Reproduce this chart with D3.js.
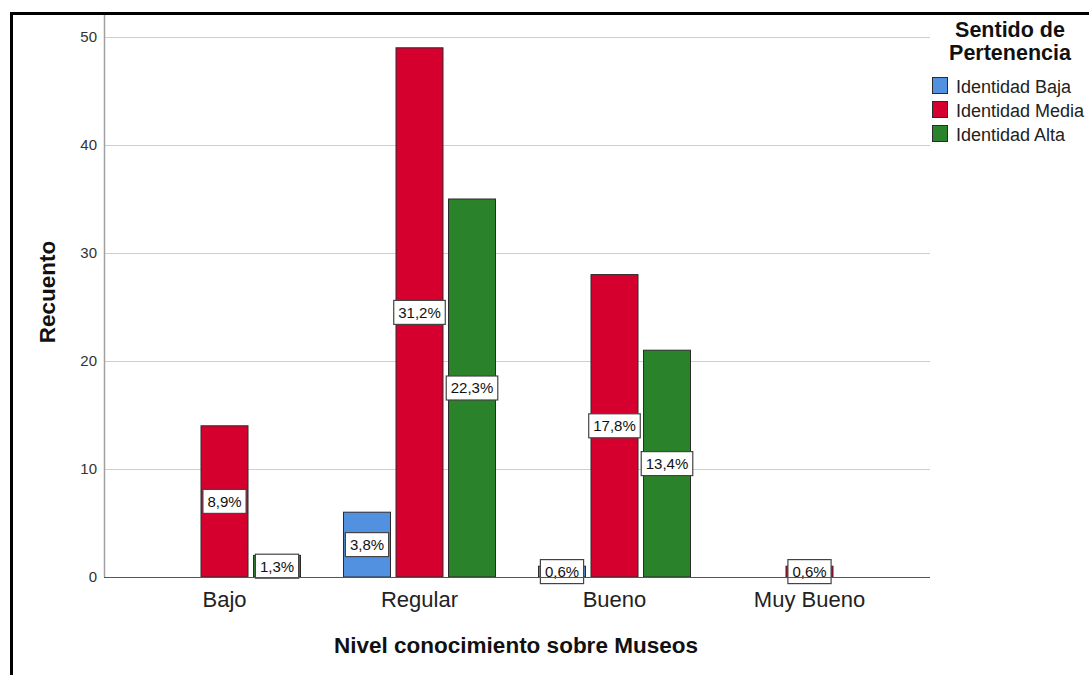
<!DOCTYPE html>
<html>
<head>
<meta charset="utf-8">
<script src="https://cdn.jsdelivr.net/npm/d3@7"></script>
<style>
  html, body { margin: 0; padding: 0; background: #fff; }
  svg { display: block; font-family: Arial, "Liberation Sans", sans-serif; }
</style>
</head>
<body>
<svg id="chart" width="1089" height="675"></svg>
<script>
// Nivel de conocimiento sobre museos vs. sentido de pertenencia (recuentos)
const categories = ["Bajo", "Regular", "Bueno", "Muy Bueno"];
const seriesNames = ["Identidad Baja", "Identidad Media", "Identidad Alta"];
const seriesColors = ["#5291e0", "#d6002f", "#2a822a"];
const identidadBaja  = [0, 6, 1, 0];
const identidadMedia = [14, 49, 28, 1];
const identidadAlta  = [2, 35, 21, 0];
const yTicks = [0, 10, 20, 30, 40, 50];
const legendTitle = ["Sentido de", "Pertenencia"];

const seriesValues = [identidadBaja, identidadMedia, identidadAlta];
const total = d3.sum(seriesValues.flat());

const FONT = "Arial, 'Liberation Sans', sans-serif";
const svg = d3.select("#chart");
const plot = { left: 104, right: 930, top: 13, bottom: 577 };

const x = d3.scaleBand().domain(categories)
  .range([plot.left, plot.right]).paddingOuter(0.118).paddingInner(0);
const xs = d3.scaleBand().domain(seriesNames)
  .range([-76, 76]).paddingInner(0.105);
const y = d3.scaleLinear().domain([0, 50]).range([plot.bottom, 37]);

// outer frame
svg.append("path")
  .attr("d", `M11.5,675 V13.5 H1089`)
  .attr("fill", "none").attr("stroke", "#000").attr("stroke-width", 3);

// gridlines
svg.append("g").selectAll("line").data(yTicks.filter(d => d > 0)).join("line")
  .attr("x1", plot.left).attr("x2", plot.right)
  .attr("y1", d => y(d) + 0.5).attr("y2", d => y(d) + 0.5)
  .attr("stroke", "#cfcfcf").attr("stroke-width", 1.2);

// y axis
const yAxis = svg.append("g").attr("transform", `translate(${plot.left},0)`)
  .call(d3.axisLeft(y).tickValues(yTicks).tickSize(0).tickPadding(7));
yAxis.select(".domain").remove();
yAxis.selectAll("text").attr("font-size", 15).attr("fill", "#333")
  .attr("font-family", FONT);
svg.append("line").attr("x1", plot.left + 0.5).attr("x2", plot.left + 0.5)
  .attr("y1", 15).attr("y2", plot.bottom)
  .attr("stroke", "#a0a0a0").attr("stroke-width", 1.5);

// bars
const groups = svg.append("g").selectAll("g").data(categories).join("g")
  .attr("transform", d => `translate(${x(d) + x.bandwidth() / 2},0)`);

const barData = (cat, ci) => seriesNames.map((s, si) => ({
  cat, series: s, si, value: seriesValues[si][ci]
}));

groups.each(function (cat, ci) {
  const g = d3.select(this);
  const data = barData(cat, ci).filter(d => d.value > 0);
  g.selectAll("rect.bar").data(data).join("rect").attr("class", "bar")
    .attr("x", d => xs(d.series)).attr("width", xs.bandwidth())
    .attr("y", d => y(d.value)).attr("height", d => y(0) - y(d.value))
    .attr("fill", d => seriesColors[d.si])
    .attr("stroke", "#2b2b2b").attr("stroke-width", 1);

  const lbl = g.selectAll("g.lbl").data(data).join("g").attr("class", "lbl")
    .attr("transform", d => `translate(${xs(d.series) + xs.bandwidth() / 2},${(y(0) + y(d.value)) / 2})`);
  lbl.each(function (d) {
    const t = (d.value / total * 100).toFixed(1).replace(".", ",") + "%";
    const node = d3.select(this);
    const txt = node.append("text").text(t)
      .attr("text-anchor", "middle").attr("dy", "0.36em")
      .attr("font-size", 15).attr("fill", "#111");
    const w = txt.node().getComputedTextLength() + 9;
    node.insert("rect", "text")
      .attr("x", -w / 2).attr("y", -12).attr("width", w).attr("height", 24)
      .attr("fill", "#fff").attr("stroke", "#444").attr("stroke-width", 1.2);
  });
});

// baseline
svg.append("line").attr("x1", plot.left).attr("x2", plot.right)
  .attr("y1", plot.bottom + 0.5).attr("y2", plot.bottom + 0.5)
  .attr("stroke", "#555").attr("stroke-width", 1.2);

// category labels
const xAxis = svg.append("g").attr("transform", `translate(0,${plot.bottom})`)
  .call(d3.axisBottom(x).tickSize(0).tickPadding(0));
xAxis.select(".domain").remove();
xAxis.selectAll("text").attr("font-size", 22).attr("fill", "#222")
  .attr("font-family", FONT).attr("dy", null).attr("y", 30);

// axis titles
svg.append("text").attr("x", 516).attr("y", 653).attr("text-anchor", "middle")
  .attr("font-size", 22.5).attr("font-weight", "bold").attr("fill", "#111")
  .text("Nivel conocimiento sobre Museos");
svg.append("text").attr("transform", "translate(55,292) rotate(-90)")
  .attr("text-anchor", "middle")
  .attr("font-size", 22.5).attr("font-weight", "bold").attr("fill", "#111")
  .text("Recuento");

// legend (two-line title in one text element)
const legend = svg.append("g");
legend.append("text").attr("x", 1010).attr("y", 37).attr("text-anchor", "middle")
  .attr("font-size", 21.5).attr("font-weight", "bold").attr("fill", "#111")
  .selectAll("tspan").data(legendTitle).join("tspan")
  .attr("x", 1010).attr("dy", (d, i) => i === 0 ? 0 : 23).text(d => d);
const items = legend.selectAll("g.item").data(seriesNames).join("g").attr("class", "item")
  .attr("transform", (d, i) => `translate(932,${77 + i * 24})`);
items.append("rect").attr("x", 0.5).attr("y", 0.5).attr("width", 15).attr("height", 16)
  .attr("fill", (d, i) => seriesColors[i]).attr("stroke", "#2b2b2b").attr("stroke-width", 1);
items.append("text").attr("x", 24).attr("y", 16)
  .attr("font-size", 18).attr("fill", "#222").text(d => d);
</script>
</body>
</html>
